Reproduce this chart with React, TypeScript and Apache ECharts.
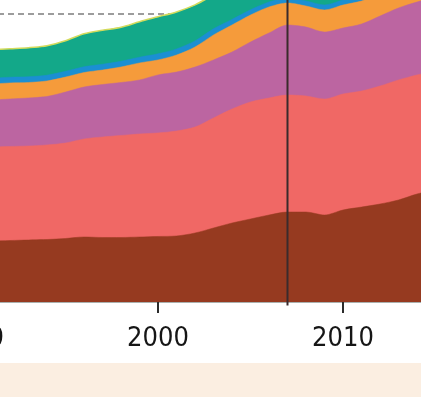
import React, { useEffect, useRef } from "react";
import * as echarts from "echarts";

const years = [1990, 1991, 1992, 1993, 1994, 1995, 1996, 1997, 1998, 1999, 2000, 2001, 2002, 2003, 2004, 2005, 2006, 2007, 2008, 2009, 2010, 2011, 2012, 2013, 2014, 2015];

const layerBrown = [8.47, 8.47, 8.54, 8.61, 8.68, 8.82, 9.03, 8.96, 8.96, 9.03, 9.1, 9.17, 9.58, 10.28, 10.97, 11.53, 12.08, 12.5, 12.5, 12.08, 12.78, 13.19, 13.61, 14.17, 15.0, 15.56];
const layerSalmon = [12.99, 13.06, 13.06, 13.06, 13.13, 13.26, 13.61, 13.96, 14.17, 14.31, 14.38, 14.58, 14.72, 15.28, 15.83, 16.25, 16.25, 16.25, 16.11, 16.11, 16.11, 16.11, 16.39, 16.67, 16.53, 16.53];
const layerPurple = [6.53, 6.53, 6.6, 6.67, 6.74, 7.08, 7.22, 7.29, 7.36, 7.5, 8.06, 8.19, 8.33, 8.06, 7.92, 8.33, 9.03, 9.72, 9.58, 9.31, 9.17, 9.31, 9.72, 10.0, 10.14, 10.28];
const layerOrange = [2.22, 2.22, 2.22, 2.15, 2.15, 2.08, 2.01, 2.01, 2.15, 2.36, 2.08, 2.36, 2.78, 3.47, 3.75, 3.75, 3.61, 3.06, 2.92, 3.06, 3.19, 3.19, 3.06, 2.78, 2.78, 2.64];
const layerBlue = [0.8, 0.8, 0.8, 0.8, 0.8, 0.8, 0.8, 0.8, 0.8, 0.8, 0.85, 0.85, 0.85, 0.85, 0.78, 0.72, 0.7, 0.7, 0.7, 0.7, 0.7, 0.7, 0.7, 0.7, 0.7, 0.7];
const layerGreen = [3.89, 3.96, 3.96, 4.03, 4.1, 4.24, 4.58, 4.72, 4.72, 4.93, 5.14, 5.14, 5.0, 4.72, 4.79, 4.86, 4.86, 5.0, 5.14, 5.14, 5.14, 5.28, 5.42, 5.56, 5.56, 5.56];

const referenceLevel = 40;
const markerYear = 2007;
const axisMinYear = 1980;
const axisMaxYear = 2020;
const axisStep = 10;

const layers = [
  { name: "Layer 1", data: layerBrown, color: "#963a20" },
  { name: "Layer 2", data: layerSalmon, color: "#f06865" },
  { name: "Layer 3", data: layerPurple, color: "#bc65a1" },
  { name: "Layer 4", data: layerOrange, color: "#f59b3b" },
  { name: "Layer 5", data: layerBlue, color: "#1b8fd2" },
  { name: "Layer 6", data: layerGreen, color: "#13a889" },
];

export default function App() {
  const ref = useRef<HTMLDivElement>(null);
  useEffect(() => {
    if (!ref.current) return;
    document.body.style.overflow = "hidden";
    const chart = echarts.init(ref.current, undefined, { renderer: "svg" });

    // cumulative tops of each stacked layer
    const running = years.map(() => 0);
    const cumulative = layers.map((l) => {
      const tops = l.data.map((v, i) => {
        running[i] += v;
        return running[i];
      });
      return { ...l, tops };
    });

    // draw top-most first so lower layers paint over it
    const areaSeries = cumulative
      .slice()
      .reverse()
      .map((l, idx) => ({
        name: l.name,
        type: "line",
        data: years.map((y, i) => [y, +l.tops[i].toFixed(3)]),
        smooth: 0.3,
        symbol: "none",
        lineStyle:
          idx === 0
            ? { color: "#d3db5c", width: 1.5 }
            : { color: l.color, width: 0.5 },
        areaStyle: { color: l.color, opacity: 1 },
        z: 2,
      }));

    chart.setOption({
      animation: false,
      grid: { left: 0, right: 0, top: 0, bottom: 95, outerBoundsMode: "none", containLabel: false },
      xAxis: {
        type: "value",
        min: axisMinYear,
        max: axisMaxYear,
        interval: axisStep,
        z: 4,
        axisLine: { show: true, lineStyle: { color: "#a9b0ae", width: 1 } },
        axisTick: { show: true, length: 11, lineStyle: { color: "#2b2b2b", width: 2 } },
        axisLabel: {
          margin: 21,
          fontSize: 27,
          color: "#161616",
          fontFamily: "'Liberation Sans Narrow', 'DejaVu Sans Condensed', 'Liberation Sans', sans-serif",
          formatter: (v: number) => String(v),
        },
        splitLine: { show: false },
      },
      yAxis: { type: "value", min: 0, max: 45, show: false },
      graphic: [
        {
          type: "rect",
          shape: { x: 0, y: 385, width: 740, height: 40 },
          style: { fill: "#fbeee1" },
          silent: true,
          z: -1,
        },
      ],
      series: [
        {
          name: "Reference",
          type: "line",
          data: [
            [axisMinYear, referenceLevel],
            [axisMaxYear, referenceLevel],
          ],
          symbol: "none",
          lineStyle: { color: "#9c9c9c", width: 2, type: [6, 4] },
          z: 1,
        },
        ...areaSeries,
        {
          name: "Marker",
          type: "line",
          data: [
            [markerYear, -0.5],
            [markerYear, 45],
          ],
          symbol: "none",
          clip: false,
          lineStyle: { color: "#3a2b2c", width: 2 },
          z: 5,
        },
      ],
    });
    return () => chart.dispose();
  }, []);
  return (
    <div
      ref={ref}
      style={{ position: "fixed", left: -212, top: -22, width: 740, height: 419 }}
    />
  );
}
